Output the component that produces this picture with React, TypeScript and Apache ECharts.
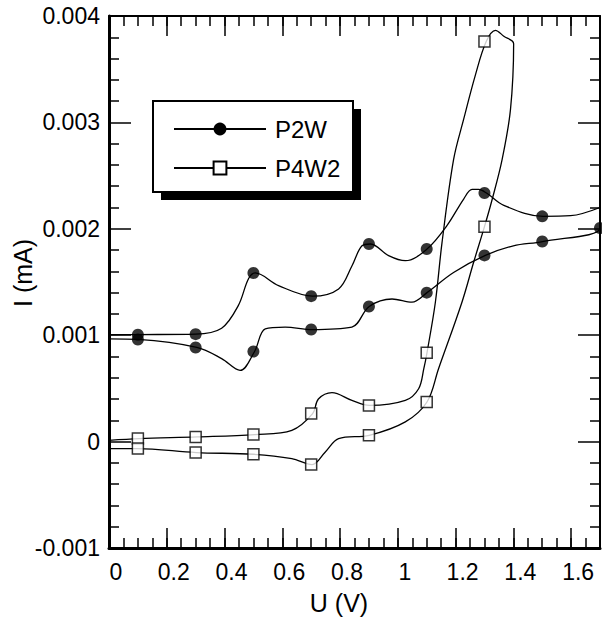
import React, { useEffect, useRef } from "react";
import * as echarts from "echarts";

// P2W curve (forward scan left→right, then reverse scan right→left)
const p2wCurveU = [
  0.0, 0.1, 0.3, 0.39, 0.448, 0.483, 0.506, 0.587, 0.705, 0.795, 0.841, 0.876, 0.905, 0.968, 1.026, 1.101,
  1.17, 1.228, 1.257, 1.28, 1.307, 1.367, 1.503, 1.598, 1.7,
  1.7, 1.501, 1.4, 1.303, 1.193, 1.101, 1.049, 0.98, 0.901, 0.841, 0.703, 0.61, 0.541, 0.504, 0.454, 0.39,
  0.304, 0.1, 0.0,
];
const p2wCurveI = [
  0.001004, 0.001006, 0.00101, 0.001066, 0.00128, 0.00153, 0.001585, 0.001466, 0.001367, 0.001435, 0.00165,
  0.00184, 0.001857, 0.001748, 0.0017, 0.00181, 0.00203, 0.00228, 0.00237, 0.00237, 0.002336, 0.00222,
  0.002117, 0.002123, 0.0022,
  0.002007, 0.00188, 0.00184, 0.00175, 0.00159, 0.0014, 0.00131, 0.00134, 0.00127, 0.001076, 0.001053,
  0.001076, 0.00106, 0.000847, 0.000669, 0.00078, 0.000885, 0.00096, 0.000966,
];
// P2W markers
const p2wMarkU = [0.1, 0.3, 0.5, 0.7, 0.9, 1.1, 1.3, 1.5, 1.7, 1.5, 1.3, 1.1, 0.9, 0.7, 0.5, 0.3, 0.1];
const p2wMarkI = [
  0.001004, 0.00101, 0.001585, 0.001367, 0.001857, 0.00181, 0.002336, 0.002117,
  0.002007, 0.00188, 0.00175, 0.0014, 0.00127, 0.001053, 0.000847, 0.000885, 0.00096,
];

// P4W2 curve
const p4w2CurveU = [
  0.0, 0.105, 0.306, 0.505, 0.633, 0.705, 0.725, 0.772, 0.841, 0.902, 1.026, 1.072, 1.09, 1.101, 1.13,
  1.153, 1.193, 1.228, 1.268, 1.306, 1.338, 1.367, 1.401,
  1.39, 1.361, 1.327, 1.3, 1.263, 1.222, 1.141, 1.101, 1.026, 0.901, 0.795, 0.749, 0.703, 0.633, 0.5,
  0.302, 0.098, 0.0,
];
const p4w2CurveI = [
  0.000012, 0.000028, 0.000044, 0.000066, 0.000106, 0.000263, 0.0004, 0.00046, 0.000387, 0.00034,
  0.000387, 0.000497, 0.000685, 0.000835, 0.00131, 0.00187, 0.00265, 0.00303, 0.00344, 0.00376,
  0.003865, 0.00381, 0.00374,
  0.00312, 0.00265, 0.00228, 0.00202, 0.00169, 0.00131, 0.000685, 0.000372, 0.000185, 0.000059,
  0.000028, -0.000097, -0.000216, -0.00016, -0.000119, -0.000103, -0.000066, -0.000066,
];
// P4W2 markers
const p4w2MarkU = [0.1, 0.3, 0.5, 0.7, 0.9, 1.1, 1.3, 1.3, 1.1, 0.9, 0.7, 0.5, 0.3, 0.1];
const p4w2MarkI = [
  0.000028, 0.000044, 0.000066, 0.000263, 0.00034, 0.000835, 0.00376,
  0.00202, 0.000372, 0.000059, -0.000216, -0.000119, -0.000103, -0.000066,
];

const seriesNames = ["P2W", "P4W2"];
const xAxisTitle = "U (V)";
const yAxisTitle = "I (mA)";
const xMin = 0;
const xMax = 1.7;
const xMajor = 0.2;
const xMinor = 0.05;
const yMin = -0.001;
const yMax = 0.004;
const yMajor = 0.001;

const FONT = "'Liberation Sans', Arial, Helvetica, sans-serif";

const zip = (u: number[], i: number[]) => u.map((v, k) => [v, i[k]]);

export default function App() {
  const ref = useRef<HTMLDivElement>(null);
  useEffect(() => {
    document.body.style.margin = "0";
    if (!ref.current) return;
    const chart = echarts.init(ref.current, undefined, { renderer: "svg" });
    const blank = { show: false };
    const majorX = (pos: "top" | "bottom", labels: boolean, lw: number) => ({
      type: "value",
      position: pos,
      min: xMin,
      max: xMax,
      interval: xMajor,
      axisLine: { show: true, onZero: false, lineStyle: { color: "#000", width: lw } },
      axisTick: { show: true, inside: true, length: 20, lineStyle: { color: "#000", width: 1.5 } },
      splitLine: blank,
      axisLabel: labels
        ? {
            show: true,
            color: "#000",
            fontSize: 23,
            fontFamily: FONT,
            margin: 12,
            padding: [0, 0, 0, 14],
            formatter: (v: number) => (v > xMax - 0.05 ? "" : String(Math.round(v * 10) / 10)),
          }
        : blank,
    });
    const minorX = (pos: "top" | "bottom") => ({
      type: "value",
      position: pos,
      min: xMin,
      max: xMax,
      interval: xMinor,
      axisLine: { show: false, onZero: false },
      axisTick: { show: true, inside: true, length: 10, lineStyle: { color: "#000", width: 1.5 } },
      splitLine: blank,
      axisLabel: blank,
    });
    const yAx = (pos: "left" | "right", labels: boolean, lw: number) => ({
      type: "value",
      position: pos,
      min: yMin,
      max: yMax,
      interval: yMajor,
      axisLine: { show: true, onZero: false, lineStyle: { color: "#000", width: lw } },
      axisTick: { show: true, inside: true, length: 22, lineStyle: { color: "#000", width: 1.5 } },
      minorTick: { show: true, splitNumber: 5, length: 10, lineStyle: { color: "#000", width: 1.5 } },
      splitLine: blank,
      minorSplitLine: blank,
      axisLabel: labels
        ? {
            show: true,
            color: "#000",
            fontSize: 23,
            fontFamily: FONT,
            margin: 9,
            padding: [8, 0, 0, 0],
            formatter: (v: number) => (Math.abs(v) < 1e-12 ? "0" : v.toFixed(3)),
          }
        : blank,
    });

    const option: any = {
      animation: false,
      backgroundColor: "#fff",
      grid: { left: 109, right: 2, top: 16, bottom: 71, containLabel: false, outerBoundsMode: "none" },
      xAxis: [
        {
          ...majorX("bottom", true, 3),
          name: xAxisTitle,
          nameLocation: "middle",
          nameGap: 42,
          nameTextStyle: { color: "#000", fontSize: 25, fontFamily: FONT, padding: [0, 31, 0, 0] },
        },
        minorX("bottom"),
        majorX("top", false, 2),
        minorX("top"),
      ],
      yAxis: [yAx("left", true, 3), yAx("right", false, 2)],
      legend: {
        show: true,
        orient: "vertical",
        left: 173,
        top: 117,
        padding: 0,
        itemWidth: 92,
        itemHeight: 16,
        itemGap: 15,
        z: 20,
        data: seriesNames,
        selectedMode: false,
        textStyle: { color: "#000", fontSize: 24, fontFamily: FONT, padding: [0, 0, 0, 4] },
      },
      graphic: [
        {
          type: "rect",
          z: 10,
          shape: { x: 161, y: 109, width: 200, height: 91 },
          style: { fill: "#000" },
        },
        {
          type: "rect",
          z: 11,
          shape: { x: 153, y: 101, width: 200, height: 91 },
          style: { fill: "#fff", stroke: "#000", lineWidth: 2 },
        },
        {
          type: "text",
          z: 12,
          x: 23,
          y: 273,
          rotation: Math.PI / 2,
          style: {
            text: yAxisTitle,
            fill: "#000",
            fontSize: 25,
            fontFamily: FONT,
            align: "center",
            verticalAlign: "middle",
          },
        },
      ],
      series: [
        {
          name: seriesNames[0],
          type: "line",
          data: zip(p2wCurveU, p2wCurveI),
          smooth: 0.35,
          showSymbol: false,
          symbol: "circle",
          symbolSize: 12,
          lineStyle: { color: "#000", width: 1.3 },
          itemStyle: { color: "#000" },
          z: 3,
        },
        {
          name: seriesNames[1],
          type: "line",
          data: zip(p4w2CurveU, p4w2CurveI),
          smooth: 0.35,
          showSymbol: false,
          symbol: "rect",
          symbolSize: 11,
          lineStyle: { color: "#000", width: 1.3 },
          itemStyle: { color: "#fff", borderColor: "#000", borderWidth: 1.5 },
          z: 3,
        },
        {
          name: seriesNames[0],
          type: "scatter",
          data: zip(p2wMarkU, p2wMarkI),
          symbol: "circle",
          symbolSize: 12,
          itemStyle: { color: "#000" },
          z: 5,
        },
        {
          name: seriesNames[1],
          type: "scatter",
          data: zip(p4w2MarkU, p4w2MarkI),
          symbol: "rect",
          symbolSize: 11,
          itemStyle: { color: "#fff", borderColor: "#000", borderWidth: 1.5 },
          z: 5,
        },
      ],
    };
    chart.setOption(option);
    return () => chart.dispose();
  }, []);
  return (
    <div
      ref={ref}
      style={{ position: "fixed", left: 0, top: 0, width: 602, height: 619, background: "#fff" }}
    />
  );
}
